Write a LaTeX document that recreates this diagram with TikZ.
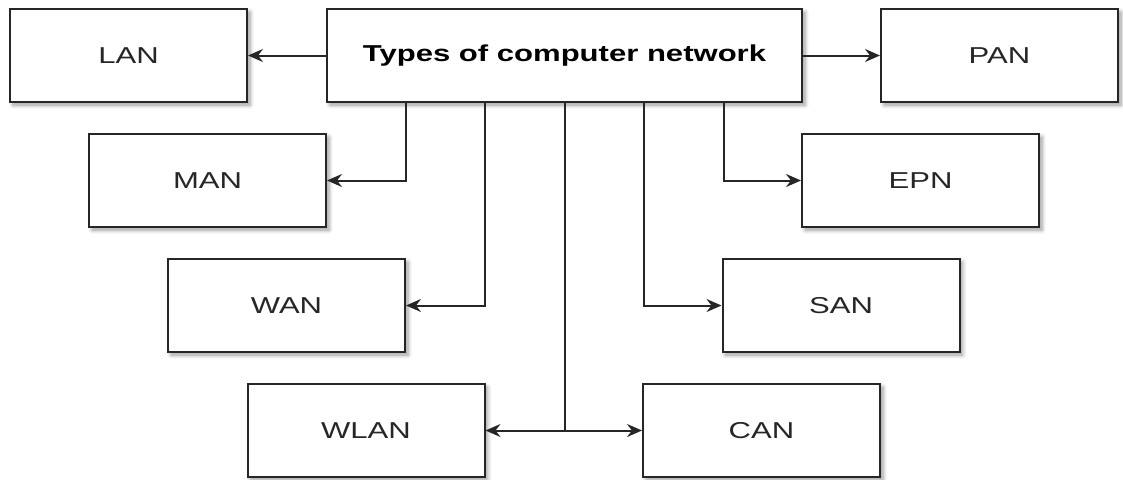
\documentclass[tikz,border=0pt]{standalone}
\usepackage{fontspec}
\setmainfont{Liberation Sans}[FakeStretch=1.35]
\usetikzlibrary{arrows.meta,calc,shadows.blur}
\begin{document}
\begin{tikzpicture}[x=1pt,y=-1pt,
  netbox/.style={draw=black!85, line width=2pt, fill=white,
    minimum width=237pt, minimum height=93pt, inner sep=0pt,
    font=\fontsize{23}{26}\selectfont, text=black!85,
    blur shadow={shadow xshift=3pt, shadow yshift=-3pt,
      shadow blur radius=4pt, shadow blur steps=6, shadow opacity=40}},
  arr/.style={draw=black!85, line width=2pt,
    -{Stealth[length=15pt,width=13pt,inset=5pt]}}]
\useasboundingbox (0,0) rectangle (1123,479);

\node[netbox, minimum width=475pt, font=\fontsize{23}{26}\selectfont\bfseries, text=black]
  (main) at (564.5,55.5) {Types of computer network};
\node[netbox] (lan)  at (128.5,55.5)  {LAN};
\node[netbox] (pan)  at (999.5,55.5)  {PAN};
\node[netbox] (man)  at (207.5,180.5) {MAN};
\node[netbox] (epn)  at (920.5,180.5) {EPN};
\node[netbox] (wan)  at (286.5,305.5) {WAN};
\node[netbox] (san)  at (841,305.5)   {SAN};
\node[netbox] (wlan) at (366,430.5)   {WLAN};
\node[netbox] (can)  at (761.5,430.5) {CAN};

\draw[arr] (main.west) -- (lan.east);
\draw[arr] (main.east) -- (pan.west);
\draw[arr] ($(main.south west)!1/6!(main.south east)$) |- (man.east);
\draw[arr] ($(main.south west)!2/6!(main.south east)$) |- (wan.east);
\draw[arr] (main.south) |- (wlan.east);
\draw[arr] (main.south) |- (can.west);
\draw[arr] ($(main.south west)!4/6!(main.south east)$) |- (san.west);
\draw[arr] ($(main.south west)!5/6!(main.south east)$) |- (epn.west);
\end{tikzpicture}
\end{document}
